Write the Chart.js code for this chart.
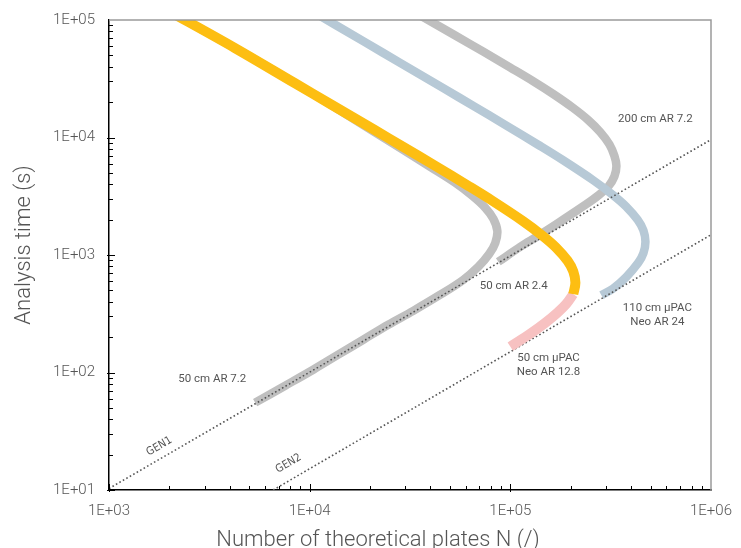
<!DOCTYPE html>
<html>
<head>
<meta charset="utf-8">
<title>Kinetic plot</title>
<script src="https://cdn.jsdelivr.net/npm/chart.js@4.4.0/dist/chart.umd.min.js"></script>
<style>
  html, body { margin: 0; padding: 0; background: #fff; }
  #wrap { position: relative; width: 741px; height: 548px; }
</style>
</head>
<body>
<div id="wrap"><canvas id="mainChart"></canvas></div>
<script>
// --- axis ticks ---
const xTickValues = [1e3, 1e4, 1e5, 1e6];
const xTickLabels = ['1E+03', '1E+04', '1E+05', '1E+06'];
const yTickValues = [1e1, 1e2, 1e3, 1e4, 1e5];
const yTickLabels = ['1E+01', '1E+02', '1E+03', '1E+04', '1E+05'];

// --- series: plates N and analysis time t (s) ---
// 50 cm AR 7.2 (grey)
const col50ar72N = [1902, 4222, 8436, 12650, 20980, 29260, 39900, 53170, 64640, 75050, 82260, 86140, 84180, 78590, 69240, 58300, 44750, 32830, 24630, 18490, 13870, 10410, 7548, 5348];
const col50ar72T = [124000, 58000, 29010, 19120, 11160, 7846, 5623, 4111, 3187, 2520, 2032, 1606, 1270, 1024, 793.6, 615, 459, 335, 255, 190, 141.7, 105.6, 77.2, 55.4];
// 200 cm AR 7.2 (grey)
const col200ar72N = [31710, 38990, 53170, 73340, 100000, 130300, 163900, 203800, 244900, 281000, 311700, 330100, 337800, 330100, 308200, 274700, 236700, 199200, 167700, 136400, 112200, 87100];
const col200ar72T = [121600, 100000, 73840, 53750, 39370, 30060, 23390, 18030, 14030, 11090, 8736, 6973, 5734, 4670, 3838, 3219, 2673, 2197, 1806, 1442, 1174, 875];
// 110 cm uPAC Neo AR 24 (blue)
const pac110N = [9432, 18850, 28240, 47010, 65690, 93350, 138200, 181300, 259400, 324900, 377300, 430900, 460500, 471300, 460500, 434900, 377300, 324900, 284400];
const pac110T = [129500, 64740, 43170, 25900, 18490, 12950, 8634, 6474, 4317, 3237, 2590, 1992, 1619, 1295, 1036, 863.5, 647.4, 518, 454];
// 50 cm AR 2.4 (yellow)
const col50ar24N = [1902, 4222, 8436, 12640, 21050, 29390, 41770, 61870, 81140, 116100, 145400, 168800, 192900, 205900, 211000, 205900];
const col50ar24T = [124000, 58000, 29010, 19350, 11600, 8286, 5801, 3869, 2901, 1934, 1450, 1160, 892.7, 725, 580, 464];
// 50 cm uPAC Neo AR 12.8 (pink)
const pac50N = [205900, 190300, 171600, 149500, 125800, 100000];
const pac50T = [464, 384.6, 322.5, 265.2, 213.8, 166];
// generation limits
const gen1N = [1000, 1000000];
const gen1T = [10.3, 9600];
const gen2N = [6580, 1000000];
const gen2T = [10, 1486];

// --- text notes (data coordinates) ---
const chartNotes = [
    { lines: ['200 cm AR 7.2'], n: 528000, t: 14400 },
    { lines: ['50 cm AR 2.4'], n: 104000, t: 547 },
    { lines: ['110 cm µPAC', 'Neo AR 24'], n: 540000, t: 310 },
    { lines: ['50 cm µPAC', 'Neo AR 12.8'], n: 155000, t: 116 },
    { lines: ['50 cm AR 7.2'], n: 3270, t: 88.5 },
    { lines: ['GEN1'], n: 1780, t: 23.5, gen: true },
    { lines: ['GEN2'], n: 7850, t: 16.8, gen: true }
];

const FONT = 'Roboto, "Liberation Sans", Arial, sans-serif';
const TXT = '#555';

const app = {
    chart: null,

    init: () => {
        app.renderChart();
    },

    toPoints: (xs, ys) => xs.map((x, i) => ({ x, y: ys[i] })),

    curve: (label, xs, ys, color, width, order) => ({
        label,
        data: app.toPoints(xs, ys),
        showLine: true,
        borderColor: color,
        backgroundColor: color,
        borderWidth: width,
        borderCapStyle: 'butt',
        borderJoinStyle: 'round',
        pointRadius: 0,
        tension: 0.35,
        clip: 0,
        order
    }),

    dotted: (label, xs, ys) => ({
        label,
        data: app.toPoints(xs, ys),
        showLine: true,
        borderColor: '#555',
        borderWidth: 1.6,
        borderDash: [1.6, 2.4],
        pointRadius: 0,
        tension: 0,
        clip: 0,
        order: 1
    }),

    // minor/major ticks, frame, axis titles and notes
    decorPlugin: {
        id: 'decor',
        afterDraw: (chart) => {
            const { ctx, chartArea: a, scales: { x, y } } = chart;
            ctx.save();

            // grey frame top/right
            ctx.strokeStyle = '#9a9a9a';
            ctx.lineWidth = 1.5;
            ctx.beginPath();
            ctx.moveTo(a.left, a.top); ctx.lineTo(a.right, a.top); ctx.lineTo(a.right, a.bottom);
            ctx.stroke();

            // log ticks pointing inwards
            ctx.strokeStyle = '#000';
            ctx.lineWidth = 1;
            for (let d = 3; d < 6; d++) {
                for (let m = 1; m < 10; m++) {
                    const px = Math.round(x.getPixelForValue(m * Math.pow(10, d))) + 0.5;
                    const len = m === 1 ? 6 : 4;
                    ctx.beginPath(); ctx.moveTo(px, a.bottom + (m === 1 ? 2 : 0)); ctx.lineTo(px, a.bottom - len); ctx.stroke();
                }
            }
            for (let d = 1; d < 5; d++) {
                for (let m = 1; m < 10; m++) {
                    const py = Math.round(y.getPixelForValue(m * Math.pow(10, d))) + 0.5;
                    const len = m === 1 ? 6 : 4;
                    ctx.beginPath(); ctx.moveTo(a.left - (m === 1 ? 2 : 0), py); ctx.lineTo(a.left + len, py); ctx.stroke();
                }
            }

            // axis titles
            ctx.fillStyle = TXT;
            ctx.font = '300 22px ' + FONT;
            ctx.textAlign = 'center';
            ctx.textBaseline = 'alphabetic';
            ctx.fillText('Number of theoretical plates N (/)', 378, 546);
            ctx.save();
            ctx.translate(30, 245);
            ctx.rotate(-Math.PI / 2);
            ctx.fillText('Analysis time (s)', 0, 0);
            ctx.restore();

            // notes
            const angle = Math.atan2(y.getPixelForValue(10) - y.getPixelForValue(100),
                x.getPixelForValue(10000) - x.getPixelForValue(1000));
            chartNotes.forEach(nt => {
                const px = x.getPixelForValue(nt.n);
                const py = y.getPixelForValue(nt.t);
                ctx.save();
                ctx.translate(px, py);
                if (nt.gen) {
                    ctx.rotate(-angle);
                    ctx.font = '11px "Liberation Sans Narrow", "DejaVu Sans Condensed", ' + FONT;
                } else {
                    ctx.font = '11.5px ' + FONT;
                }
                ctx.textBaseline = 'middle';
                const lh = 14;
                const y0 = -(nt.lines.length - 1) * lh / 2;
                nt.lines.forEach((l, i) => ctx.fillText(l, 0, y0 + i * lh));
                ctx.restore();
            });

            ctx.restore();
        }
    },

    renderChart: () => {
        const ctx = document.getElementById('mainChart').getContext('2d');
        if (app.chart) app.chart.destroy();
        app.chart = new Chart(ctx, {
            type: 'scatter',
            data: {
                datasets: [
                    app.curve('50 cm AR 7.2', col50ar72N, col50ar72T, '#bfbfbf', 8.5, 3),
                    app.curve('200 cm AR 7.2', col200ar72N, col200ar72T, '#bfbfbf', 8.5, 3),
                    app.curve('110 cm µPAC Neo AR 24', pac110N, pac110T, '#b7c9d6', 8.5, 2),
                    app.dotted('GEN1', gen1N, gen1T),
                    app.dotted('GEN2', gen2N, gen2T),
                    app.curve('50 cm AR 2.4', col50ar24N, col50ar24T, '#fdbe12', 10, 0),
                    app.curve('50 cm µPAC Neo AR 12.8', pac50N, pac50T, '#f7c1c1', 10, 0)
                ]
            },
            options: {
                responsive: true,
                maintainAspectRatio: false,
                animation: false,
                layout: { padding: { top: 20, right: 30, left: 0, bottom: 0 } },
                plugins: { legend: { display: false }, tooltip: { enabled: false } },
                scales: {
                    x: {
                        type: 'logarithmic',
                        min: 1000, max: 1000000,
                        afterBuildTicks: s => { s.ticks = xTickValues.map(v => ({ value: v, major: true })); },
                        afterFit: s => { s.height = 58; s.paddingLeft = 0; s.paddingRight = 0; },
                        grid: { display: false, drawTicks: false },
                        border: { display: true, color: '#000', width: 1.5 },
                        ticks: {
                            autoSkip: false, maxRotation: 0, padding: 12,
                            color: TXT, font: { family: FONT, size: 15, weight: '300' },
                            callback: (v, i) => xTickLabels[i]
                        }
                    },
                    y: {
                        type: 'logarithmic',
                        min: 10, max: 100000,
                        afterBuildTicks: s => { s.ticks = yTickValues.map(v => ({ value: v, major: true })); },
                        afterFit: s => { s.width = 109; s.paddingTop = 0; s.paddingBottom = 0; },
                        grid: { display: false, drawTicks: false },
                        border: { display: true, color: '#000', width: 1.5 },
                        ticks: {
                            autoSkip: false, padding: 14,
                            color: TXT, font: { family: FONT, size: 15, weight: '300' },
                            callback: (v, i) => yTickLabels[i]
                        }
                    }
                }
            },
            plugins: [app.decorPlugin]
        });
    }
};

document.addEventListener('DOMContentLoaded', app.init);
</script>
</body>
</html>
